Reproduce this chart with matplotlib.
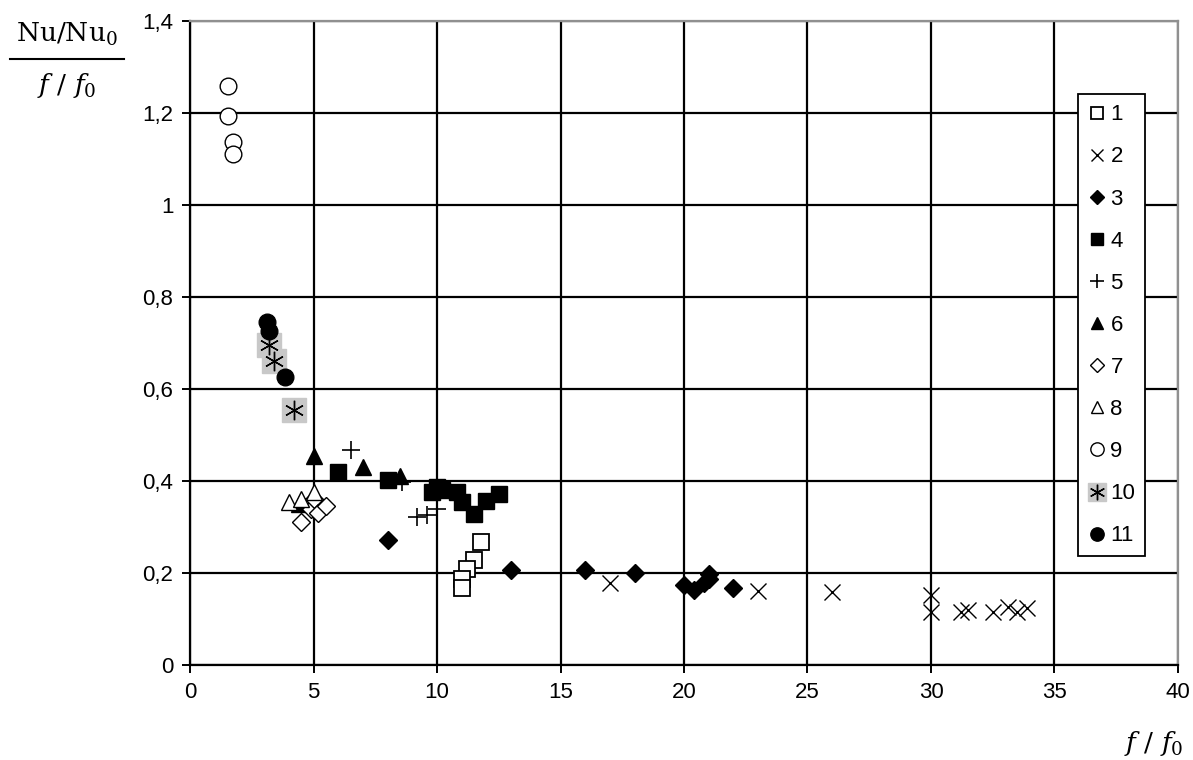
import numpy as np
import matplotlib
matplotlib.use('Agg')
import matplotlib.pyplot as plt
from matplotlib.ticker import FuncFormatter

# series data (f/f0, (Nu/Nu0)/(f/f0))
x1 = [11.8, 11.5, 11.2, 11.0, 11.0]
y1 = [0.267, 0.228, 0.208, 0.186, 0.168]

x2 = [17.0, 23.0, 26.0, 30.0, 30.0, 31.2, 31.5, 32.5, 33.1, 33.5, 33.9]
y2 = [0.178, 0.16, 0.159, 0.153, 0.116, 0.115, 0.119, 0.115, 0.125, 0.115, 0.124]

x3 = [8.0, 13.0, 16.0, 18.0, 20.0, 20.4, 20.8, 21.0, 21.0, 22.0]
y3 = [0.272, 0.206, 0.207, 0.199, 0.174, 0.162, 0.178, 0.188, 0.197, 0.168]

x4 = [6.0, 8.0, 9.8, 10.0, 10.2, 10.8, 11.0, 11.5, 12.0, 12.5]
y4 = [0.42, 0.402, 0.375, 0.387, 0.38, 0.375, 0.355, 0.328, 0.357, 0.372]

x5 = [5.0, 6.5, 8.6, 9.2, 9.6, 10.0]
y5 = [0.36, 0.467, 0.398, 0.322, 0.326, 0.34]

x6 = [5.0, 7.0, 8.5, 4.4]
y6 = [0.455, 0.43, 0.41, 0.35]

x7 = [4.5, 4.9, 5.0, 5.2, 5.5]
y7 = [0.31, 0.34, 0.36, 0.33, 0.345]

x8 = [4.0, 4.5, 5.0]
y8 = [0.355, 0.36, 0.375]

x9 = [1.55, 1.55, 1.75, 1.75]
y9 = [1.259, 1.194, 1.137, 1.111]

x10 = [3.2, 3.4, 4.2]
y10 = [0.695, 0.66, 0.554]

x11 = [3.1, 3.2, 3.85]
y11 = [0.745, 0.725, 0.626]

labels = ['1', '2', '3', '4', '5', '6', '7', '8', '9', '10', '11']

fig = plt.figure(figsize=(11.93, 7.6), dpi=100)
ax = fig.add_axes([0.1593, 0.125, 0.8281, 0.8475])

styles = [
    dict(marker='s', mfc='white', mec='black', ms=11, mew=1.3),
    dict(marker='x', color='black', ms=11, mew=1.0),
    dict(marker='D', color='black', ms=9),
    dict(marker='s', color='black', ms=11),
    dict(marker='+', color='black', ms=13, mew=1.2),
    dict(marker='^', color='black', ms=11),
    dict(marker='D', mfc='white', mec='black', ms=9, mew=1.0),
    dict(marker='^', mfc='white', mec='black', ms=11, mew=1.0),
    dict(marker='o', mfc='white', mec='black', ms=12, mew=1.0),
    dict(marker=(6, 2, 0), color='black', ms=14, mew=1.0),
    dict(marker='o', color='black', ms=12),
]
xs = [x1, x2, x3, x4, x5, x6, x7, x8, x9, x10, x11]
ys = [y1, y2, y3, y4, y5, y6, y7, y8, y9, y10, y11]

for i, (xv, yv, st) in enumerate(zip(xs, ys, styles)):
    if i == 9:
        # gray background squares behind the asterisks
        ax.plot(xv, yv, ls='none', marker='s', color='#c8c8c8', ms=17, zorder=3)
    ax.plot(xv, yv, ls='none', zorder=4, **st)

ax.set_xlim(0, 40)
ax.set_ylim(0, 1.4)
ax.set_xticks(np.arange(0, 41, 5))
ax.set_yticks(np.arange(0, 1.41, 0.2))
ax.yaxis.set_major_formatter(FuncFormatter(lambda v, p: ('%g' % round(v, 1)).replace('.', ',')))
ax.grid(True, color='black', lw=1.6)
ax.set_axisbelow(True)
for s in ['top', 'right']:
    ax.spines[s].set_color('#909090')
    ax.spines[s].set_linewidth(1.6)
for s in ['left', 'bottom']:
    ax.spines[s].set_linewidth(1.6)
ax.tick_params(direction='out', length=6, width=1.4, labelsize=16, pad=6)
for t in ax.get_xticklabels() + ax.get_yticklabels():
    t.set_fontfamily('Liberation Sans')

leg_handles = []
for st in styles:
    st2 = dict(st)
    st2['ms'] = st['ms'] * 0.8
    leg_handles.append(plt.Line2D([], [], ls='none', **st2))
# gray patch behind the legend asterisk
leg_handles[9] = (plt.Line2D([], [], ls='none', marker='s', color='#c8c8c8', ms=13),
                  leg_handles[9])
leg = ax.legend(leg_handles, labels, loc='upper left', bbox_to_anchor=(0.899, 0.886),
                borderaxespad=0, frameon=True, fancybox=False, edgecolor='black',
                framealpha=1, handlelength=0.8, handletextpad=0.2, labelspacing=0.95,
                borderpad=0.45, prop={'family': 'Liberation Sans', 'size': 16})
leg.get_frame().set_linewidth(1.3)

# y label as a fraction
fig.text(0.056, 0.955, r'Nu/Nu$_0$', ha='center', va='center', fontsize=19,
         family='serif', math_fontfamily='dejavuserif')
fig.add_artist(plt.Line2D([0.008, 0.104], [0.922, 0.922], color='black', lw=1.5))
fig.text(0.056, 0.888, r'$f$ / $f_0$', ha='center', va='center', fontsize=19,
         family='serif', math_fontfamily='dejavuserif')
fig.text(0.967, 0.022, r'$f$ / $f_0$', ha='center', va='center', fontsize=19,
         family='serif', math_fontfamily='dejavuserif')

fig.savefig('out.png', dpi=100)
